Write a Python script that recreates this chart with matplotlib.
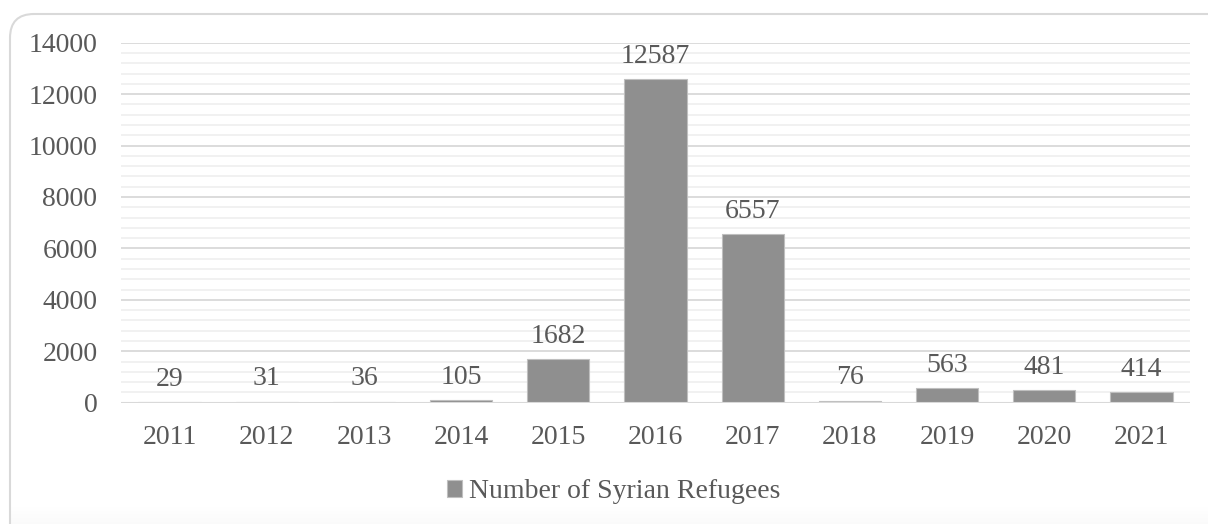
import numpy as np
import matplotlib
matplotlib.use("Agg")
import matplotlib.pyplot as plt
from matplotlib.patches import FancyBboxPatch
from matplotlib.ticker import MultipleLocator

years = ["2011", "2012", "2013", "2014", "2015", "2016",
         "2017", "2018", "2019", "2020", "2021"]
refugees = [29, 31, 36, 105, 1682, 12587, 6557, 76, 563, 481, 414]
series_name = "Number of Syrian Refugees"

TEXT = "#595959"
BAR = "#8f8f8f"

plt.rcParams["font.family"] = ["Liberation Serif", "DejaVu Serif"]

W, H = 1208, 524
fig = plt.figure(figsize=(W / 100, H / 100), dpi=100)

# background layer in pixel units: rounded frame + faint bottom shading
bg = fig.add_axes([0, 0, 1, 1], zorder=-1)
bg.set_xlim(0, W)
bg.set_ylim(0, H)
bg.axis("off")
shade = np.linspace(0, 1, 50).reshape(-1, 1)
bg.imshow(shade, aspect="auto", cmap="Greys", vmin=0, vmax=25,
          extent=[11, W, 0, 18], origin="upper", zorder=1)
bg.add_patch(FancyBboxPatch((10, -30), W + 20, H - 14 + 30,
                            boxstyle="round,pad=0,rounding_size=24",
                            facecolor="none", edgecolor="#d9d9d9",
                            lw=1.5, zorder=2))

ax = fig.add_axes([121 / W, 1 - 402.7 / H, (1190 - 121) / W, 360 / H])
ax.set_facecolor("none")

x = np.arange(len(years))
bars = ax.bar(x, refugees, width=0.64, color=BAR, edgecolor="#bfbfbf",
              lw=0.8, zorder=3, label=series_name)

for xi, v in zip(x, refugees):
    ax.annotate(f"{v}", (xi, v), xytext=(0, 7.5), textcoords="offset points",
                ha="center", va="bottom", fontsize=20, color=TEXT)

ax.set_xlim(-0.5, len(years) - 0.5)
ax.set_ylim(0, 14000)
ax.yaxis.set_major_locator(MultipleLocator(2000))
ax.yaxis.set_minor_locator(MultipleLocator(400))
ax.grid(axis="y", which="major", color="#d9d9d9", lw=1.3, zorder=0)
ax.grid(axis="y", which="minor", color="#f0f0f0", lw=1.3, zorder=0)
ax.axhline(0, color="#d9d9d9", lw=1.5, zorder=4)

ax.set_xticks(x)
ax.set_xticklabels(years)
ax.tick_params(axis="both", which="both", length=0, labelsize=20,
               labelcolor=TEXT)
ax.tick_params(axis="y", pad=17)
ax.tick_params(axis="x", pad=16)
for s in ax.spines.values():
    s.set_visible(False)

fig.legend(handles=[bars], labels=[series_name], loc="center",
           bbox_to_anchor=(614 / W, 1 - 492 / H), frameon=False,
           fontsize=20, handlelength=0.55, handleheight=0.55,
           handletextpad=0.25, labelcolor=TEXT)

fig.savefig("out.png", dpi=100)
